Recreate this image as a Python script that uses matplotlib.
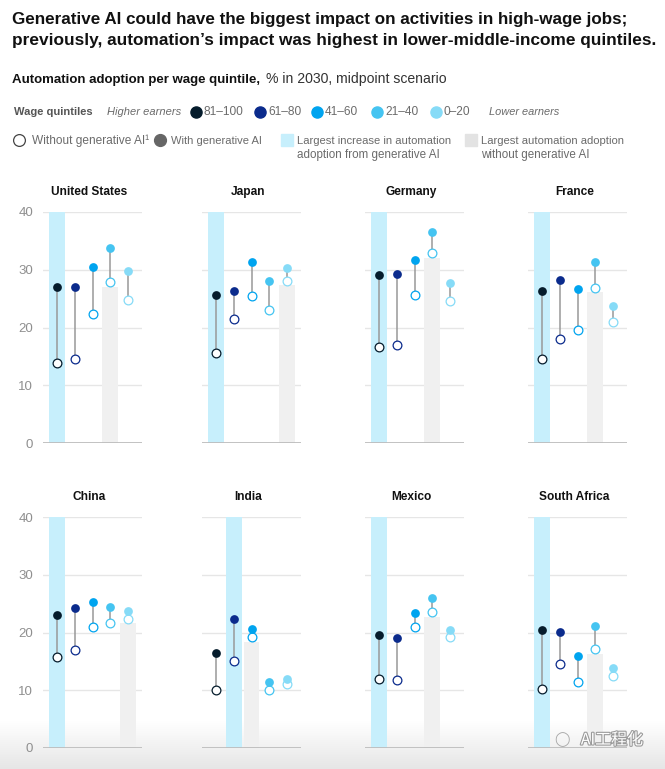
import numpy as np
import matplotlib
matplotlib.use("Agg")
from matplotlib import pyplot as plt
from matplotlib import patheffects
from matplotlib.colors import LinearSegmentedColormap

plt.rcParams['font.family'] = ['Liberation Sans', 'DejaVu Sans']

countries = ["United States", "Japan", "Germany", "France",
             "China", "India", "Mexico", "South Africa"]
quintiles = ["81\u2013100", "61\u201380", "41\u201360", "21\u201340", "0\u201320"]

# automation adoption, % in 2030
with_gen_ai = [
    [27.0, 27.0, 30.4, 33.7, 29.7],
    [25.7, 26.3, 31.3, 28.0, 30.3],
    [29.1, 29.2, 31.7, 36.6, 27.7],
    [26.3, 28.3, 26.6, 31.3, 23.8],
    [23.0, 24.2, 25.3, 24.4, 23.7],
    [16.5, 22.4, 20.6, 11.5, 11.9],
    [19.6, 19.1, 23.4, 26.0, 20.4],
    [20.4, 20.1, 16.0, 21.1, 13.8],
]
without_gen_ai = [
    [13.9, 14.5, 22.4, 27.8, 24.7],
    [15.5, 21.4, 25.4, 23.1, 28.0],
    [16.6, 17.0, 25.6, 32.9, 24.6],
    [14.6, 18.0, 19.5, 26.8, 20.9],
    [15.8, 17.0, 20.9, 21.6, 22.4],
    [10.0, 15.0, 19.2, 10.0, 11.1],
    [11.9, 11.8, 20.9, 23.5, 19.3],
    [10.2, 14.6, 11.5, 17.1, 12.5],
]
largest_increase = ["81\u2013100", "81\u2013100", "81\u2013100", "81\u2013100",
                    "81\u2013100", "61\u201380", "81\u2013100", "81\u2013100"]
largest_without = ["21\u201340", "0\u201320", "21\u201340", "21\u201340",
                   "0\u201320", "41\u201360", "21\u201340", "21\u201340"]
largest_without_value = [27.0, 27.3, 32.0, 26.1, 21.6, 18.4, 22.7, 16.3]

colors = ["#051c2c", "#0b2b8c", "#00a4ef", "#45c4f1", "#86dbf7"]
BAND = "#c7effc"
BAR = "#f0f0f0"
GREY_TXT = "#6b6b6b"

W, H = 665, 769
fig = plt.figure(figsize=(W / 100, H / 100), dpi=100)
renderer = fig.canvas.get_renderer()


def fx(x):
    return x / W


def fy(y):
    return 1 - y / H


def fit_text(x, y, s, right, size, **kw):
    # shrink a line of text so that it ends at pixel x = right
    t = fig.text(fx(x), fy(y), s, fontsize=size, va="baseline", **kw)
    w = t.get_window_extent(renderer).width
    t.set_fontsize(size * (right - x) / w)
    return t


def dot(x, y, **kw):
    fig.lines.append(plt.Line2D([fx(x)], [fy(y)], transform=fig.transFigure, **kw))


# screenshot shadow at the bottom
bg = fig.add_axes([0, 0, 1, 48 / H], zorder=-10)
grad = np.linspace(1, 0, 64).reshape(-1, 1)
bg.imshow(grad, aspect="auto", extent=[0, 1, 0, 1], vmin=0, vmax=1,
          cmap=LinearSegmentedColormap.from_list("shade", ["#e6e6e6", "#ffffff"]))
bg.axis("off")

# titles
fit_text(12, 24, "Generative AI could have the biggest impact on activities in high-wage jobs;",
         627, 13, fontweight="bold", color="#111111")
fit_text(12, 45, "previously, automation\u2019s impact was highest in lower-middle-income quintiles.",
         652, 13, fontweight="bold", color="#111111")

fit_text(12, 83, "Automation adoption per wage quintile,", 262, 10,
         fontweight="bold", color="#111111")
fit_text(266, 83, "% in 2030, midpoint scenario", 447, 10, color="#333333")

# legend row 1
ly1 = 115
fit_text(14, ly1, "Wage quintiles", 92, 8.5, fontweight="bold", color="#555555")
fit_text(107, ly1, "Higher earners", 180, 8.5, style="italic", color=GREY_TXT)
dot_x = [196, 260, 317, 377, 436]
for q, c, x in zip(quintiles, colors, dot_x):
    dot(x, ly1 - 3, marker="o", markersize=8, color=c)
    fig.text(fx(x + 8), fy(ly1), q, fontsize=8.6, va="baseline", color=GREY_TXT)
fit_text(489, ly1, "Lower earners", 559, 8.5, style="italic", color=GREY_TXT)

# legend row 2
ly2 = 144
dot(19, ly2 - 4, marker="o", markersize=8.5, markerfacecolor="white",
    markeredgecolor="#444444", markeredgewidth=0.9)
fit_text(32, ly2, "Without generative AI\u00b9", 148, 8.5, color=GREY_TXT)
dot(160, ly2 - 4, marker="o", markersize=8.5, color="#666666")
fit_text(171, ly2, "With generative AI", 261, 8.5, color=GREY_TXT)
dot(287, ly2 - 4, marker="s", markersize=8, color=BAND)
fit_text(297, ly2, "Largest increase in automation", 451, 8.5, color=GREY_TXT)
fig.text(fx(297), fy(ly2 + 14), "adoption from generative AI", fontsize=8.4,
         va="baseline", color=GREY_TXT)
dot(471, ly2 - 4, marker="s", markersize=8, color="#e3e3e3")
fit_text(481, ly2, "Largest automation adoption", 624, 8.5, color=GREY_TXT)
fig.text(fx(481), fy(ly2 + 14), "without generative AI", fontsize=8.4,
         va="baseline", color=GREY_TXT)

# panels
col_left = [43, 202, 365, 528]
row_zero = [443, 748]
ax_w, ax_h = 99, 231
x = np.arange(len(quintiles))

for i, name in enumerate(countries):
    r, c = divmod(i, 4)
    left = col_left[c]
    ax = fig.add_axes([fx(left), fy(row_zero[r]), ax_w / W, ax_h / H])
    ax.set_facecolor("none")
    ax.set_xlim(-0.8, 4.8)
    ax.set_ylim(0, 40)
    for s in ax.spines.values():
        s.set_visible(False)

    for g in [10, 20, 30, 40]:
        ax.axhline(g, color="#e6e6e6", lw=1, zorder=0)
    ax.axhline(0, color="#bdbdbd", lw=1.3, zorder=3)

    bi = quintiles.index(largest_increase[i])
    ax.axvspan(bi - 0.46, bi + 0.46, color=BAND, lw=0, zorder=1)
    wi = quintiles.index(largest_without[i])
    ax.bar(wi, largest_without_value[i], width=0.9, color=BAR, lw=0, zorder=1)

    ax.vlines(x, without_gen_ai[i], with_gen_ai[i], color="#999999", lw=1.1, zorder=4)
    for j in range(len(quintiles)):
        ax.plot(x[j], without_gen_ai[i][j], marker="o", markersize=6.3,
                markerfacecolor="white", markeredgecolor=colors[j],
                markeredgewidth=0.9, zorder=5, clip_on=False)
        ax.plot(x[j], with_gen_ai[i][j], marker="o", markersize=6.3,
                color=colors[j], markeredgewidth=0, zorder=6, clip_on=False)

    ax.set_xticks([])
    ax.set_yticks([0, 10, 20, 30, 40])
    ax.tick_params(axis="y", length=0, pad=7, labelsize=9.5, labelcolor="#8f8f8f")
    if c != 0:
        ax.set_yticklabels([])

    ty = row_zero[r] - ax_h - 20
    fig.text(fx(left + ax_w / 2 - 3), fy(ty), name, fontsize=8.6, fontweight="bold",
             ha="center", va="center", color="#111111")

# watermark
fig.text(fx(612), fy(740), "AI工程化", fontsize=11.5, ha="center", va="center",
         color="white", family=["Noto Sans CJK SC", "DejaVu Sans"],
         path_effects=[patheffects.withStroke(linewidth=1.6, foreground="#9a9a9a")])
fig.text(fx(562), fy(740), "\u25ef", fontsize=10, ha="center", va="center",
         color="#a8a8a8", family=["DejaVu Sans"])

fig.savefig("out.png", dpi=100)
